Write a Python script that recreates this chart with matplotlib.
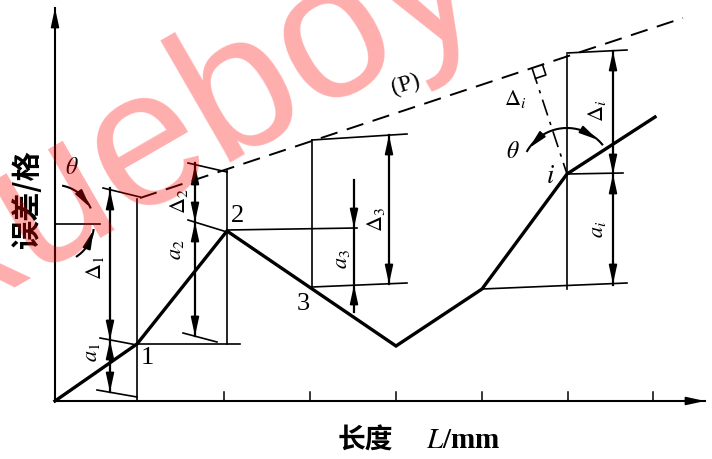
import numpy as np
import matplotlib.pyplot as plt

# profile of the guideway (length along L, error in grid units)
profile_u = [0, 82, 172, 341, 427, 512, 600]
profile_v = [0, 57, 170, 55, 112, 227, 284]

# labelled measuring points on the profile
point_names = ['1', '2', '3', 'i']
point_u = [82, 172, 257, 512]
point_v = [57, 170, 112, 227]

# enveloping line (P)
p_u = [85, 628]
p_v = [203, 383]

# tick positions on the length axis
tick_u = [169, 255, 341, 427, 513, 598]

# thin extension lines (u0, v0, u1, v1)
ext_lines = [
    (82, 0, 82, 202), (172, 57, 172, 231), (257, 112, 257, 261), (512, 112, 512, 346),
    (48, 213, 85, 204), (42, 11, 82, 4), (45, 63, 82, 56), (82, 57, 185, 57),
    (128, 68, 162, 59), (133, 238, 172, 229), (133, 181, 172, 169), (172, 171, 302, 173),
    (257, 261, 352, 267), (257, 114, 352, 118), (512, 348, 572, 351), (512, 227, 568, 228),
    (427, 112, 572, 118), (0, 177, 45, 177),
]

# dimension lines: (u, v_top, v_bottom)
dim_lines = [(55, 213, 9), (140, 238, 65), (334, 266, 117), (299, 221, 89), (558, 350, 116)]

# arrow tips on the dimension lines: (u, v_tip, direction) +1 = points up
dim_tips = [
    (55, 211, 1), (55, 61, -1), (55, 61, 1), (55, 9, -1),
    (140, 236, 1), (140, 179, -1), (140, 179, 1), (140, 65, -1),
    (334, 266, 1), (334, 117, -1),
    (299, 173, -1), (299, 116, 1),
    (558, 350, 1), (558, 227, -1), (558, 227, 1), (558, 117, -1),
]

# rotated dimension labels: (text, u, v)
dim_labels = [
    (r'$\Delta_1$', 40, 133), (r'$a_1$', 38, 49),
    (r'$\Delta_2$', 124, 200), (r'$a_2$', 122, 151),
    (r'$\Delta_3$', 321, 182), (r'$a_3$', 288, 142),
    (r'$\Delta_i$', 542, 290), (r'$a_i$', 543, 172),
]

plt.rcParams['font.family'] = ['Liberation Serif', 'DejaVu Sans']
plt.rcParams['mathtext.fontset'] = 'stix'

fig = plt.figure(figsize=(7.12, 4.59), dpi=100)
ax = fig.add_axes([0, 0, 1, 1])
ax.set_xlim(-55, 657)
ax.set_ylim(-58, 401)
ax.axis('off')

k = 'black'


def head(tip, tail, lw=1.3):
    ax.annotate('', xy=tip, xytext=tail,
                arrowprops=dict(arrowstyle='-|>,head_length=1.1,head_width=0.24',
                                color=k, lw=lw, shrinkA=0, shrinkB=0,
                                mutation_scale=10))


# axes with arrows
ax.plot([0, 650], [0, 0], color=k, lw=1.5)
ax.plot([0, 0], [0, 393], color=k, lw=1.5)
head((650, 0), (625, 0))
head((0, 393), (0, 360))
for t in tick_u:
    ax.plot([t, t], [0, 9], color=k, lw=1.1)

# profile and enveloping line
ax.plot(profile_u, profile_v, color=k, lw=2.4, solid_joinstyle='miter')
ax.plot(p_u, p_v, color=k, lw=1.4, dashes=(9, 5))

for u0, v0, u1, v1 in ext_lines:
    ax.plot([u0, u1], [v0, v1], color=k, lw=1.2)

for u, vt, vb in dim_lines:
    ax.plot([u, u], [vt, vb], color=k, lw=1.6)
for u, v, d in dim_tips:
    head((u, v), (u, v - 16 * d))

for s, u, v in dim_labels:
    ax.text(u, v, s, rotation=90, fontsize=16, ha='center', va='center')

for s, u, v in zip(point_names, point_u, point_v):
    off = {'1': (10, -14), '2': (11, 15), '3': (-9, -15), 'i': (-17, -3)}[s]
    txt = r'$i$' if s == 'i' else s
    ax.text(u + off[0], v + off[1], txt, fontsize=19, ha='center', va='center')

# rotation arcs for angle theta
def arc(cu, cv, r, a0, a1):
    a = np.radians(np.linspace(a0, a1, 40))
    ax.plot(cu + r * np.cos(a), cv + r * np.sin(a), color=k, lw=1.5)


arc(0, 177, 39, 78, 25)
arc(0, 177, 39, -56, -9)
head((39 * np.cos(np.radians(25)), 177 + 39 * np.sin(np.radians(25))),
     (39 * np.cos(np.radians(48)), 177 + 39 * np.sin(np.radians(48))))
head((39 * np.cos(np.radians(-9)), 177 + 39 * np.sin(np.radians(-9))),
     (39 * np.cos(np.radians(-32)), 177 + 39 * np.sin(np.radians(-32))))
ax.text(17, 233, r'$\theta$', fontsize=17, ha='center', va='center')

arc(512, 227, 46, 150, 40)
for a_tip, a_tail in [(146, 126), (48, 68)]:
    head((512 + 46 * np.cos(np.radians(a_tip)), 227 + 46 * np.sin(np.radians(a_tip))),
         (512 + 46 * np.cos(np.radians(a_tail)), 227 + 46 * np.sin(np.radians(a_tail))))
ax.text(458, 249, r'$\theta$', fontsize=17, ha='center', va='center')

# perpendicular from point i to (P) with right-angle mark
foot = np.array([477.0, 333.0])
pi_ = np.array([512.0, 227.0])
ax.plot([foot[0], pi_[0]], [foot[1], pi_[1]], color=k, lw=1.2, dashes=(10, 4, 2, 4))
dp = np.array([0.95, 0.313]) * 11
dn = (pi_ - foot) / np.linalg.norm(pi_ - foot) * 11
sq = np.array([foot, foot + dp, foot + dp + dn, foot + dn])
ax.plot(sq[[1, 2, 3], 0], sq[[1, 2, 3], 1], color=k, lw=1.2)
ax.text(460, 302, r'$\Delta_i$', fontsize=16, ha='center', va='center')

ax.text(351, 316, '(P)', fontsize=17, rotation=17, ha='center', va='center')

# axis titles
ax.text(-28, 201, '误差/格', rotation=90, fontsize=21, ha='center', va='center',
        family=['Noto Sans CJK SC'], weight='bold')
ax.text(310, -40, '长度', fontsize=20, ha='center', va='center',
        family=['Noto Sans CJK SC'], weight='bold')
ax.text(408, -40, r'$L$/mm', fontsize=21, ha='center', va='center', weight='bold')

# site watermark
ax.text(-106, 77, 'xueboy', fontsize=140, rotation=30, rotation_mode='anchor',
        ha='left', va='baseline', color='red', alpha=0.32,
        family=['Liberation Sans'], zorder=10, clip_on=True)

fig.savefig('out.png', dpi=100)
